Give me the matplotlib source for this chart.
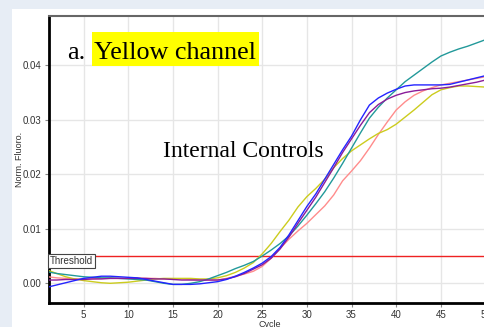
import matplotlib
matplotlib.use("Agg")
import matplotlib.pyplot as plt
from matplotlib.patches import Rectangle
from matplotlib.ticker import FormatStrFormatter

W, H = 484, 327

cycles = list(range(1, 51))

teal = [0.0021, 0.0018, 0.0016, 0.0014, 0.0012, 0.0011, 0.0010, 0.0010, 0.0009, 0.0008,
        0.0007, 0.0006, 0.0003, 0.0000, -0.0002, -0.0002, 0.0000, 0.0003, 0.0008, 0.0014,
        0.0020, 0.0027, 0.0033, 0.0040, 0.0050, 0.0061, 0.0073, 0.0087, 0.0105, 0.0125,
        0.0146, 0.0168, 0.0193, 0.0220, 0.0248, 0.0276, 0.0303, 0.0323, 0.0340, 0.0355,
        0.0370, 0.0382, 0.0394, 0.0406, 0.0417, 0.0424, 0.0430, 0.0435, 0.0441, 0.0447]

blue = [-0.0007, -0.0003, 0.0001, 0.0005, 0.0009, 0.0011, 0.0013, 0.0013, 0.0012, 0.0011,
        0.0010, 0.0007, 0.0004, 0.0001, -0.0002, -0.0002, -0.0002, -0.0001, 0.0001, 0.0003,
        0.0007, 0.0013, 0.0020, 0.0028, 0.0037, 0.0049, 0.0066, 0.0089, 0.0115, 0.0141,
        0.0164, 0.0191, 0.0218, 0.0245, 0.0270, 0.0300, 0.0327, 0.0340, 0.0349, 0.0356,
        0.0362, 0.0364, 0.0364, 0.0364, 0.0364, 0.0365, 0.0369, 0.0373, 0.0377, 0.0381]

purple = [0.0006, 0.0006, 0.0007, 0.0007, 0.0007, 0.0008, 0.0008, 0.0009, 0.0009, 0.0009,
          0.0009, 0.0009, 0.0008, 0.0008, 0.0007, 0.0006, 0.0006, 0.0006, 0.0006, 0.0006,
          0.0008, 0.0012, 0.0018, 0.0026, 0.0034, 0.0046, 0.0063, 0.0085, 0.0110, 0.0134,
          0.0158, 0.0185, 0.0212, 0.0240, 0.0265, 0.0290, 0.0313, 0.0328, 0.0338, 0.0345,
          0.0350, 0.0353, 0.0355, 0.0357, 0.0358, 0.0360, 0.0363, 0.0366, 0.0369, 0.0373]

pink = [0.0012, 0.0010, 0.0009, 0.0008, 0.0008, 0.0008, 0.0009, 0.0009, 0.0009, 0.0009,
        0.0010, 0.0009, 0.0009, 0.0008, 0.0008, 0.0008, 0.0007, 0.0006, 0.0006, 0.0006,
        0.0009, 0.0013, 0.0017, 0.0022, 0.0031, 0.0046, 0.0064, 0.0081, 0.0096, 0.0110,
        0.0126, 0.0142, 0.0162, 0.0188, 0.0206, 0.0225, 0.0248, 0.0273, 0.0296, 0.0318,
        0.0333, 0.0345, 0.0353, 0.0359, 0.0364, 0.0367, 0.0370, 0.0373, 0.0376, 0.0379]

yellow = [0.0024, 0.0018, 0.0012, 0.0008, 0.0005, 0.0003, 0.0001, 0.0000, 0.0001, 0.0002,
          0.0004, 0.0006, 0.0008, 0.0009, 0.0009, 0.0009, 0.0009, 0.0008, 0.0008, 0.0010,
          0.0014, 0.0020, 0.0028, 0.0038, 0.0054, 0.0073, 0.0095, 0.0116, 0.0140, 0.0159,
          0.0174, 0.0191, 0.0212, 0.0229, 0.0243, 0.0254, 0.0265, 0.0275, 0.0282, 0.0292,
          0.0305, 0.0318, 0.0332, 0.0346, 0.0355, 0.0359, 0.0362, 0.0362, 0.0361, 0.0360]

threshold = 0.005

x_ticks = [5, 10, 15, 20, 25, 30, 35, 40, 45, 50]
y_ticks = [0.00, 0.01, 0.02, 0.03, 0.04]

series = [
    (pink, "#ff8c8c"),
    (yellow, "#cccc1e"),
    (teal, "#22999a"),
    (purple, "#8a1c9a"),
    (blue, "#2424ff"),
]


def fx(px):
    return px / W


def fy(py):
    return 1 - py / H


fig = plt.figure(figsize=(W / 100, H / 100), dpi=100)
fig.patch.set_facecolor("#e7edf5")
# white sheet behind the plot
fig.patches.append(Rectangle((fx(12), 0), 1, fy(9), transform=fig.transFigure,
                             facecolor="white", edgecolor="none", zorder=-10))

ax = fig.add_axes([fx(48.7), fy(303.3), fx(490 - 48.7), (303.3 - 15.7) / H])
ax.set_facecolor("white")
ax.set_xlim(1.1, 50.5)
ax.set_ylim(-0.00367, 0.0491)

ax.grid(True, color="#e6e6e6", linewidth=1.0)
ax.set_axisbelow(True)

for vals, col in series:
    ax.plot(cycles, vals, color=col, linewidth=1.0, zorder=3)

ax.axhline(threshold, color="#ee2222", linewidth=1.0, zorder=2)

ax.set_xticks(x_ticks)
ax.set_yticks(y_ticks)
ax.yaxis.set_major_formatter(FormatStrFormatter("%.2f"))
ax.tick_params(axis="both", length=3, width=0.8, color="#888888",
               labelsize=7, labelcolor="#333333", pad=2)
for lab in ax.get_xticklabels() + ax.get_yticklabels():
    lab.set_fontfamily("Liberation Sans")

ax.spines["left"].set_linewidth(2)
ax.spines["left"].set_color("black")
ax.spines["bottom"].set_linewidth(2)
ax.spines["bottom"].set_color("black")
ax.spines["top"].set_linewidth(1.5)
ax.spines["top"].set_color("#666666")
ax.spines["right"].set_visible(False)

ax.set_xlabel("Cycle", fontsize=6.5, color="#333333", family="Liberation Sans", labelpad=0)
ax.set_ylabel("Norm. Fluoro.", fontsize=6.5, color="#333333", family="Liberation Sans",
              labelpad=-1)

# threshold tag sitting under the line at the left edge
ax.text(0.003, threshold, "Threshold", transform=ax.get_yaxis_transform(),
        ha="left", va="top", fontsize=7, color="#333333", family="Liberation Sans",
        bbox=dict(boxstyle="square,pad=0.2", facecolor="white", edgecolor="#444444",
                  linewidth=0.8), zorder=5)

# title with highlighted channel name
fig.patches.append(Rectangle((fx(91.7), fy(65.7)), fx(259 - 91.7), (65.7 - 32.3) / H,
                             transform=fig.transFigure, facecolor="#ffff00",
                             edgecolor="none", zorder=5))
fig.text(fx(66.7), fy(59.3), "a.", fontsize=18.8, family="Liberation Serif",
         ha="left", va="baseline", color="black", zorder=6)
fig.text(fx(93.5), fy(59.3), "Yellow channel", fontsize=18.8, family="Liberation Serif",
         ha="left", va="baseline", color="black", zorder=6)
fig.text(fx(163.3), fy(157.3), "Internal Controls", fontsize=17, family="Liberation Serif",
         ha="left", va="baseline", color="black", zorder=6)

fig.savefig("out.png", dpi=100)
